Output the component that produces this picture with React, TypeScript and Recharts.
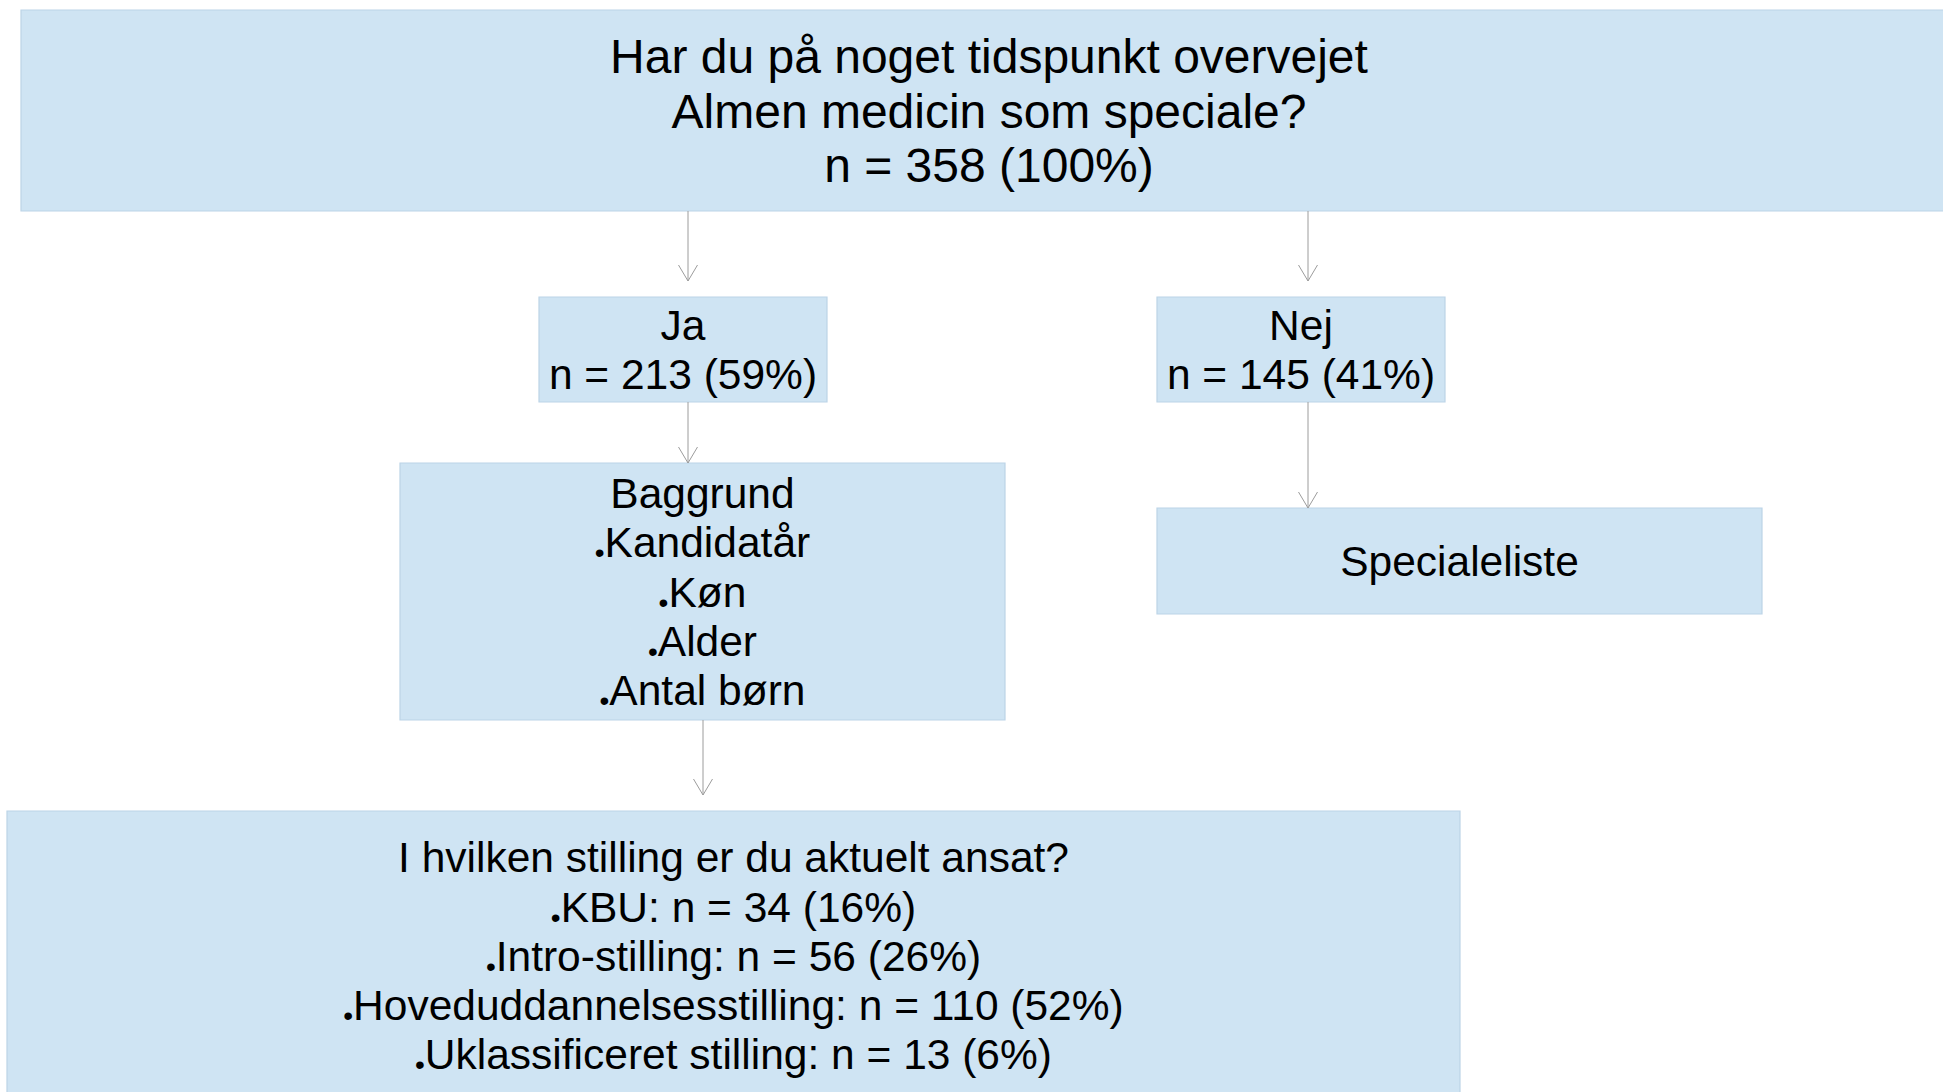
import React from "react";
import { ScatterChart, Scatter, XAxis, YAxis, ReferenceArea, ReferenceLine } from "recharts";

// data
const questionLines = ["Har du på noget tidspunkt overvejet", "Almen medicin som speciale?"];
const totalN = 358;
const answerLabels = ["Ja", "Nej"];
const answerCounts = [213, 145];
const answerPcts = [59, 41];
const backgroundTitle = "Baggrund";
const backgroundItems = ["Kandidatår", "Køn", "Alder", "Antal børn"];
const noBranchLabel = "Specialeliste";
const positionQuestion = "I hvilken stilling er du aktuelt ansat?";
const positionLabels = ["KBU", "Intro-stilling", "Hoveduddannelsesstilling", "Uklassificeret stilling"];
const positionCounts = [34, 56, 110, 13];
const positionPcts = [16, 26, 52, 6];

// layout (pixel space of the diagram)
const W = 1943;
const H = 1092;
const FILL = "#cfe4f3";
const EDGE = "#bcd4e7";
const ARROW = "#9c9c9c";
const FONT = "'Liberation Sans', Arial, sans-serif";

type Line = { text: string; bullet?: boolean };
type Box = { id: string; x1: number; x2: number; y1: number; y2: number; fs: number; lh: number; lines: Line[] };

const boxes: Box[] = [
  {
    id: "top", x1: 21, x2: 1957, y1: 10, y2: 211, fs: 48, lh: 54.5,
    lines: [...questionLines.map((t) => ({ text: t })), { text: `n = ${totalN} (100%)` }],
  },
  {
    id: "ja", x1: 539, x2: 827, y1: 297, y2: 402, fs: 42.5, lh: 49,
    lines: [{ text: answerLabels[0] }, { text: `n = ${answerCounts[0]} (${answerPcts[0]}%)` }],
  },
  {
    id: "nej", x1: 1157, x2: 1445, y1: 297, y2: 402, fs: 42.5, lh: 49,
    lines: [{ text: answerLabels[1] }, { text: `n = ${answerCounts[1]} (${answerPcts[1]}%)` }],
  },
  {
    id: "bag", x1: 400, x2: 1005, y1: 463, y2: 720, fs: 42.5, lh: 49.3,
    lines: [{ text: backgroundTitle }, ...backgroundItems.map((t) => ({ text: t, bullet: true }))],
  },
  {
    id: "spec", x1: 1157, x2: 1762, y1: 508, y2: 614, fs: 42.5, lh: 49,
    lines: [{ text: noBranchLabel }],
  },
  {
    id: "pos", x1: 7, x2: 1460, y1: 811, y2: 1100, fs: 42.5, lh: 49.2,
    lines: [
      { text: positionQuestion },
      ...positionLabels.map((l, i) => ({ text: `${l}: n = ${positionCounts[i]} (${positionPcts[i]}%)`, bullet: true })),
    ],
  },
];

const arrows = [
  { x: 688, from: 211, to: 281 },
  { x: 1308, from: 211, to: 281 },
  { x: 688, from: 402, to: 463 },
  { x: 1308, from: 402, to: 508 },
  { x: 703, from: 720, to: 795 },
];
const arrowTips = arrows.map((a) => ({ x: a.x, y: a.to }));

function BoxLabel({ viewBox, box }: { viewBox?: any; box: Box }) {
  if (!viewBox) return null;
  const cx = viewBox.x + viewBox.width / 2;
  const cy = viewBox.y + viewBox.height / 2;
  const n = box.lines.length;
  const first = cy - ((n - 1) / 2) * box.lh + (box.fs * 0.716) / 2;
  return (
    <text textAnchor="middle" fontFamily={FONT} fontSize={box.fs} fill="#000">
      {box.lines.map((l, i) =>
        l.bullet ? (
          <tspan key={i} x={cx} y={first + i * box.lh}>
            <tspan fontSize={28} dy={5}>•</tspan>
            <tspan dy={-5}>{l.text}</tspan>
          </tspan>
        ) : (
          <tspan key={i} x={cx} y={first + i * box.lh}>
            {l.text}
          </tspan>
        )
      )}
    </text>
  );
}

function ArrowHead(props: any) {
  const { cx, cy } = props;
  return (
    <polyline
      points={`${cx - 9.5},${cy - 16} ${cx},${cy} ${cx + 9.5},${cy - 16}`}
      fill="none"
      stroke={ARROW}
      strokeWidth={1}
    />
  );
}

export default function App() {
  return (
    <div style={{ position: "absolute", left: 0, top: 0, width: W, height: H, background: "#fff" }}>
      <ScatterChart width={W} height={H} margin={{ top: 0, right: 0, bottom: 0, left: 0 }}>
        <XAxis type="number" dataKey="x" domain={[0, W]} hide allowDataOverflow />
        <YAxis type="number" dataKey="y" domain={[0, H]} reversed hide allowDataOverflow />
        {boxes.map((b) => (
          <ReferenceArea
            key={b.id}
            x1={b.x1}
            x2={b.x2}
            y1={b.y1}
            y2={b.y2}
            fill={FILL}
            fillOpacity={1}
            stroke={EDGE}
            strokeWidth={1.2}
            ifOverflow="visible"
            label={(p: any) => <BoxLabel viewBox={p.viewBox} box={b} />}
          />
        ))}
        {arrows.map((a, i) => (
          <ReferenceLine
            key={i}
            segment={[{ x: a.x, y: a.from }, { x: a.x, y: a.to }]}
            stroke={ARROW}
            strokeWidth={1}
            ifOverflow="visible"
          />
        ))}
        <Scatter data={arrowTips} shape={<ArrowHead />} isAnimationActive={false} />
      </ScatterChart>
    </div>
  );
}
